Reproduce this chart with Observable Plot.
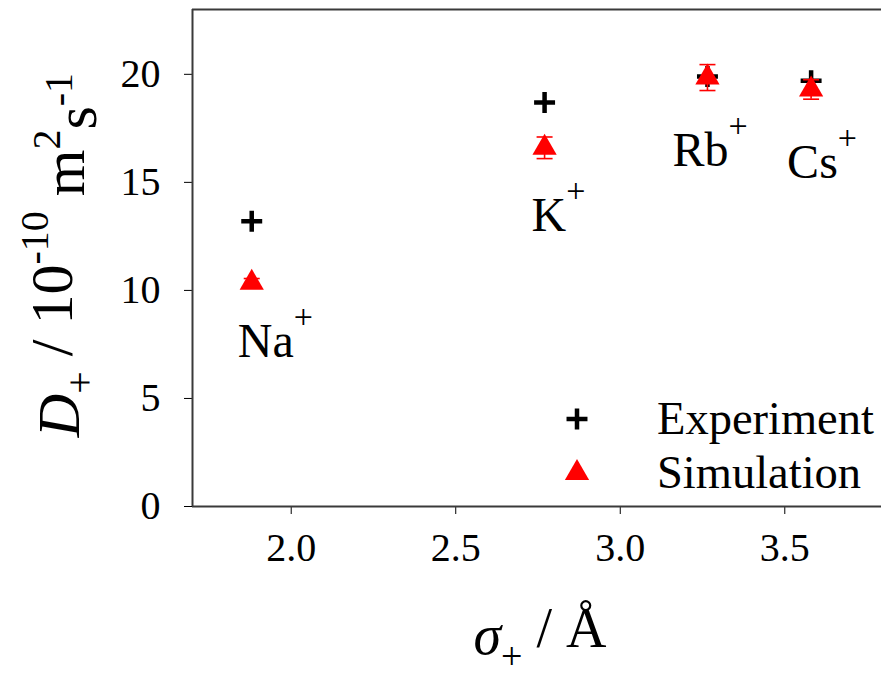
<!DOCTYPE html>
<html>
<head>
<meta charset="utf-8">
<script src="https://cdn.jsdelivr.net/npm/d3@7"></script>
<script src="https://cdn.jsdelivr.net/npm/@observablehq/plot@0.6"></script>
<style>
  html, body { margin: 0; padding: 0; background: #fff; }
  svg { display: block; }
  svg, svg text { font-family: "Liberation Serif", "Times New Roman", serif !important; }
</style>
</head>
<body>
<div id="chart"></div>
<script>
// Cation diffusion coefficients versus ion diameter
const ions = ["Na", "K", "Rb", "Cs"];
const sigma = [1.88, 2.77, 3.265, 3.58];          // Å
const dExperiment = [13.2, 18.7, 19.9, 19.7];      // 10^-10 m^2 s^-1
const dSimulation = [10.35, 16.6, 19.85, 19.3];
const dSimError = [0.2, 0.5, 0.6, 0.45];
const xTicks = [2.0, 2.5, 3.0, 3.5];
const yTicks = [0, 5, 10, 15, 20];
const xDomain = [1.7, 3.8];
const yDomain = [0, 23];

const rows = ions.map((ion, i) => ({
  ion, sigma: sigma[i], exp: dExperiment[i], sim: dSimulation[i],
  lo: dSimulation[i] - dSimError[i], hi: dSimulation[i] + dSimError[i]
}));

// label placement below each simulation point (pixels)
const labelOffset = {Na: [-14, 59], K: [-13, 68], Rb: [-35, 73], Cs: [-24, 73]};

const RED = "#ff0000";
const AXIS = "#3a3a3a";
const PLUS_R = 6.8;
const TRI_R = 9;

// horizontal cap for error bars
const capSymbol = {draw(ctx) { ctx.moveTo(-8, 0); ctx.lineTo(8, 0); }};

const plot = Plot.plot({
  width: 881,
  height: 678,
  marginLeft: 192,
  marginRight: -2,
  marginTop: 9,
  marginBottom: 172,
  style: {fontSize: "40px", color: "#000", background: "#fff"},
  x: {domain: xDomain, ticks: xTicks, tickFormat: d3.format(".1f"), tickSize: 8, tickPadding: 18, label: null},
  y: {domain: yDomain, ticks: yTicks, tickFormat: d3.format("d"), tickSize: 8, tickPadding: 24, label: null},
  marks: [
    // frame: left, bottom, top
    Plot.ruleX([xDomain[0]], {stroke: AXIS, strokeWidth: 2}),
    Plot.ruleY(yDomain, {stroke: AXIS, strokeWidth: 2}),
    // experiment
    Plot.dot(rows, {x: "sigma", y: "exp", symbol: "plus", r: PLUS_R, stroke: "#000", strokeWidth: 4.5}),
    // simulation error bars
    Plot.ruleX(rows, {x: "sigma", y1: "lo", y2: "hi", stroke: RED, strokeWidth: 1.6}),
    Plot.dot(rows, {x: "sigma", y: "lo", symbol: capSymbol, stroke: RED, strokeWidth: 1.6}),
    Plot.dot(rows, {x: "sigma", y: "hi", symbol: capSymbol, stroke: RED, strokeWidth: 1.6}),
    // simulation
    Plot.dot(rows, {x: "sigma", y: "sim", symbol: "triangle", r: TRI_R, fill: RED, stroke: "none"}),
    // ion labels
    ...rows.map(d => Plot.text([d], {
      x: "sigma", y: "sim", text: "ion",
      dx: labelOffset[d.ion][0], dy: labelOffset[d.ion][1],
      textAnchor: "start", fontSize: 48, fill: "#000"
    }))
  ]
});

document.getElementById("chart").appendChild(plot);

const svg = d3.select(plot);

// superscript charge on ion labels
svg.selectAll("text").filter(function() { return ions.includes(this.textContent); }).each(function() {
  d3.select(this).append("tspan").attr("dy", "-0.85em").attr("font-size", 34).text("+");
});

// axis titles
const SUP = 40;
const yTitle = svg.append("text")
  .attr("transform", "translate(79,255) rotate(-90)")
  .attr("text-anchor", "middle")
  .attr("font-size", 60).attr("fill", "#000");
yTitle.append("tspan").attr("font-style", "italic").text("D");
yTitle.append("tspan").attr("font-size", SUP).attr("dy", "0.35em").text("+");
yTitle.append("tspan").attr("dy", "-0.35em").text(" / 10");
yTitle.append("tspan").attr("font-size", SUP).attr("dy", "-0.6em").text("-10");
yTitle.append("tspan").attr("dy", "0.6em").text(" m");
yTitle.append("tspan").attr("font-size", SUP).attr("dy", "-0.6em").text("2");
yTitle.append("tspan").attr("dy", "0.6em").text("s");
yTitle.append("tspan").attr("font-size", SUP).attr("dy", "-0.6em").text("-1");

const xTitle = svg.append("text")
  .attr("x", 540).attr("y", 654)
  .attr("text-anchor", "middle")
  .attr("font-size", 56).attr("fill", "#000");
xTitle.append("tspan").attr("font-style", "italic").text("σ");
xTitle.append("tspan").attr("font-size", 38).attr("dy", "0.4em").text("+");
xTitle.append("tspan").attr("dy", "-0.4em").text(" / Å");

// legend
const legend = svg.append("g").attr("font-size", 46.5).attr("text-anchor", "start");
const legendItems = [
  {label: "Experiment", symbol: d3.symbolPlus, r: PLUS_R, fill: "none", stroke: "#000", sw: 4.5},
  {label: "Simulation", symbol: d3.symbolTriangle, r: TRI_R, fill: RED, stroke: "none", sw: 0}
];
legendItems.forEach((it, i) => {
  const cy = 419 + i * 54;
  legend.append("path")
    .attr("d", d3.symbol(it.symbol, Math.PI * it.r * it.r)())
    .attr("transform", `translate(577,${cy})`)
    .attr("fill", it.fill).attr("stroke", it.stroke).attr("stroke-width", it.sw);
  legend.append("text").attr("x", 657).attr("y", cy).attr("dy", "0.32em").attr("fill", "#000").text(it.label);
});
</script>
</body>
</html>
